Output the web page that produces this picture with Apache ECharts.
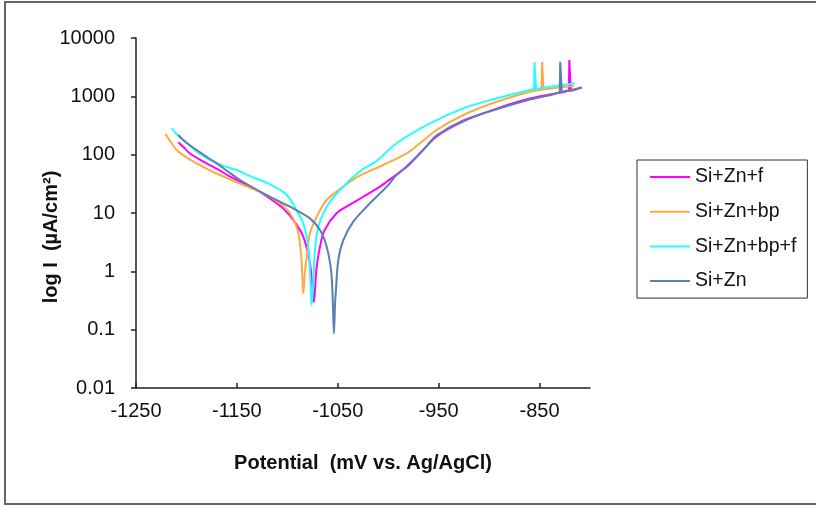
<!DOCTYPE html>
<html>
<head>
<meta charset="utf-8">
<title>Polarization curves</title>
<script src="https://cdn.jsdelivr.net/npm/echarts@6/dist/echarts.min.js"></script>
<style>
  html, body { margin: 0; padding: 0; background: #fff; }
  #chart { width: 816px; height: 506px; }
</style>
</head>
<body>
<div id="chart"></div>
<script>
// Tafel polarization curves: potential (mV vs. Ag/AgCl) against current density (µA/cm²)
const seriesNames = ['Si+Zn+f', 'Si+Zn+bp', 'Si+Zn+bp+f', 'Si+Zn'];
const seriesColors = ['#FF00FF', '#FFAA40', '#22FFFF', '#5B7FB5'];

const xTickValues = [-1250, -1150, -1050, -950, -850];
const yTickValues = [0.01, 0.1, 1, 10, 100, 1000, 10000];

// Si+Zn+f
const siZnF_E = [-1208.1, -1202, -1196.5, -1188, -1180, -1168, -1156.8, -1143, -1130.4, -1110.6, -1102, -1094.1, -1084.2, -1077.6, -1074.9, -1073.6, -1072.5, -1070.9, -1067.6, -1063, -1051.2, -1038, -1024.7, -1008.2, -1001.5, -992, -985, -968.5, -952, -925.6, -892.5, -859.5, -830, -821, -819, -808.3];
const siZnF_I = [163, 130, 105, 85, 71, 55, 41.9, 32, 24.8, 14.7, 11, 7.6, 3.93, 1.37, 0.48, 0.30, 0.5, 1.2, 2.65, 5.1, 9.9, 13.9, 19, 28.3, 34.4, 45, 56, 105, 205, 372, 615, 915, 1150, 1240, 1250, 1420];
// anodic current spike
const siZnF_spikeE = [-821, -820.5, -819.5, -819];
const siZnF_spikeI = [1240, 4200, 4200, 1250];

// Si+Zn+bp
const siZnBp_E = [-1221, -1215, -1209.7, -1200, -1189.8, -1178, -1166.8, -1143.7, -1123.8, -1107.3, -1097.4, -1090.8, -1087.5, -1085.8, -1084.8, -1084.2, -1083.4, -1082.5, -1080.8, -1077.6, -1070.9, -1061, -1044.5, -1030, -1005, -981.7, -968.5, -952, -925.6, -892.5, -859.5, -848, -846, -826.6, -816];
const siZnBp_I = [228, 160, 120, 90, 71, 55, 44.8, 30.2, 21.7, 14.7, 9.9, 5.8, 3.0, 1.37, 0.62, 0.42, 0.6, 1.0, 1.78, 4.5, 8.6, 16.7, 28.3, 41.9, 66.5, 105, 157, 265, 479, 809, 1202, 1300, 1310, 1450, 1500];
const siZnBp_spikeE = [-848, -847.5, -846.5, -846];
const siZnBp_spikeI = [1300, 3900, 3900, 1310];

// Si+Zn+bp+f
const siZnBpF_E = [-1214.6, -1209, -1203.1, -1196, -1189.8, -1182, -1176.6, -1162, -1150.2, -1137, -1123.8, -1104, -1096, -1090.8, -1084.2, -1079.2, -1077.6, -1076.6, -1075.9, -1075, -1074.3, -1072.6, -1069.3, -1061, -1047.8, -1028, -1011.5, -991.7, -958.6, -925.6, -892.5, -859.5, -855.5, -853.5, -835, -815];
const siZnBpF_I = [282, 220, 178, 140, 112, 92, 81, 63, 54.5, 43, 35, 23, 16, 11, 6.65, 2.65, 1.05, 0.42, 0.265, 0.4, 0.62, 2.32, 5.8, 12.8, 24.8, 52, 78, 157, 344, 622, 925, 1284, 1330, 1340, 1500, 1670];
const siZnBpF_spikeE = [-855.5, -855, -854, -853.5];
const siZnBpF_spikeI = [1330, 3850, 3850, 1340];

// Si+Zn
const siZn_E = [-1208.1, -1200, -1189.8, -1180, -1170, -1158, -1146.9, -1123.8, -1110, -1097.4, -1077.6, -1067.6, -1061, -1056.7, -1055.1, -1053.8, -1052.6, -1051.8, -1049.5, -1044.5, -1034.6, -1021.4, -1008.2, -1000, -991.7, -980, -970, -962, -952, -925.6, -892.5, -859.5, -835, -830, -828, -808];
const siZn_I = [217, 160, 120, 92, 71, 50, 36.8, 21.7, 16.5, 12.8, 8.1, 5.1, 2.65, 1.05, 0.37, 0.086, 0.3, 0.48, 1.56, 3.44, 7.1, 12.8, 21.7, 30, 45, 65, 100, 140, 215, 385, 600, 880, 1100, 1180, 1200, 1400];
const siZn_spikeE = [-830, -829.5, -828.5, -828];
const siZn_spikeI = [1180, 3900, 3900, 1200];

const potentials = [siZnF_E, siZnBp_E, siZnBpF_E, siZn_E];
const currents = [siZnF_I, siZnBp_I, siZnBpF_I, siZn_I];
const spikePotentials = [siZnF_spikeE, siZnBp_spikeE, siZnBpF_spikeE, siZn_spikeE];
const spikeCurrents = [siZnF_spikeI, siZnBp_spikeI, siZnBpF_spikeI, siZn_spikeI];

const FONT = '"Liberation Sans", Arial, sans-serif';

const zip = (xs, ys) => xs.map((x, i) => [x, ys[i]]);

const series = [];
seriesNames.forEach((name, k) => {
  series.push({
    name: name,
    type: 'line',
    data: zip(potentials[k], currents[k]),
    showSymbol: false,
    symbol: 'none',
    smooth: 0.35,
    color: seriesColors[k],
    lineStyle: { width: 2, color: seriesColors[k] },
    emphasis: { disabled: true }
  });
  series.push({
    name: name,
    type: 'line',
    data: zip(spikePotentials[k], spikeCurrents[k]),
    showSymbol: false,
    symbol: 'none',
    smooth: false,
    color: seriesColors[k],
    lineStyle: { width: 2, color: seriesColors[k] },
    emphasis: { disabled: true }
  });
});

const chart = echarts.init(document.getElementById('chart'), null, { renderer: 'canvas' });
chart.setOption({
  animation: false,
  backgroundColor: '#fff',
  grid: { left: 136, top: 38, width: 454, height: 350 },
  xAxis: {
    type: 'value',
    min: -1250,
    max: -800,
    interval: 100,
    name: 'Potential  (mV vs. Ag/AgCl)',
    nameLocation: 'middle',
    nameGap: 65,
    nameTextStyle: { fontFamily: FONT, fontSize: 20, fontWeight: 'bold', color: '#111' },
    axisLine: { onZero: false, lineStyle: { color: '#222', width: 1.5 } },
    axisTick: { inside: true, length: 5, customValues: xTickValues, lineStyle: { color: '#222', width: 1.5 } },
    axisLabel: {
      customValues: xTickValues,
      margin: 13,
      fontFamily: FONT,
      fontSize: 20,
      color: '#111',
      formatter: v => String(v)
    },
    splitLine: { show: false }
  },
  yAxis: {
    type: 'log',
    logBase: 10,
    min: 0.01,
    max: 10000,
    axisLine: { show: true, onZero: false, lineStyle: { color: '#222', width: 1.5 } },
    axisTick: { show: true, inside: false, length: 5, customValues: yTickValues, lineStyle: { color: '#222', width: 1.5 } },
    axisLabel: {
      customValues: yTickValues,
      margin: 21,
      fontFamily: FONT,
      fontSize: 20,
      color: '#111',
      formatter: v => String(Number(Number(v).toPrecision(6)))
    },
    splitLine: { show: false }
  },
  legend: {
    orient: 'vertical',
    left: 637,
    top: 160,
    data: seriesNames.map(n => ({ name: n, icon: 'rect' })),
    itemWidth: 40,
    itemHeight: 2,
    itemGap: 14.7,
    padding: [7, 11, 7, 13],
    borderColor: '#333',
    borderWidth: 1,
    selectedMode: false,
    textStyle: { fontFamily: FONT, fontSize: 19.5, lineHeight: 20, color: '#111' }
  },
  graphic: [
    {
      type: 'rect',
      silent: true,
      z: -1,
      shape: { x: 5, y: 2, width: 830, height: 502 },
      style: { fill: 'none', stroke: '#666', lineWidth: 2 }
    },
    {
      type: 'text',
      x: 51,
      y: 237,
      rotation: Math.PI / 2,
      style: {
        text: 'log I  (µA/cm²)',
        fontFamily: FONT,
        fontSize: 20,
        fontWeight: 'bold',
        fill: '#111',
        align: 'center',
        verticalAlign: 'middle'
      }
    }
  ],
  series: series
});
</script>
</body>
</html>
